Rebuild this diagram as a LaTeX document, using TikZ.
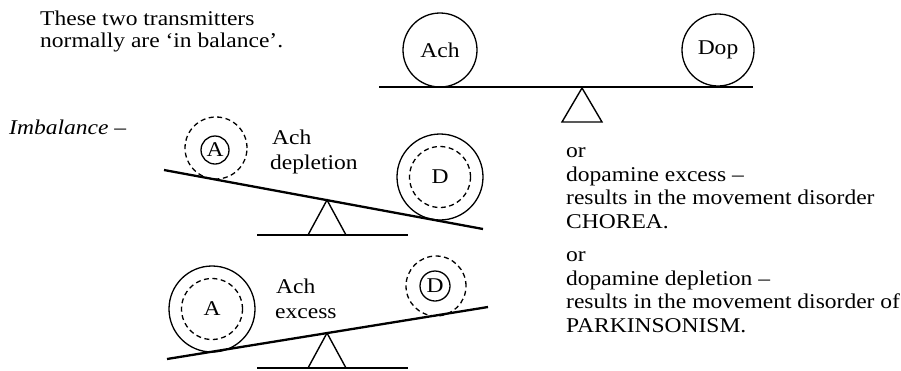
\documentclass[tikz,border=0pt]{standalone}
\usepackage{fontspec}
\setmainfont{Liberation Serif}[FakeStretch=1.12]
\begin{document}
\begin{tikzpicture}[x=1pt,y=-1pt,
  beam/.style={line width=2.3pt},
  fulcrum/.style={line width=1.4pt, line join=miter},
  ground/.style={line width=1.4pt},
  ball/.style={draw, circle, inner sep=0pt, line width=1.3pt, font=\fontsize{21}{23}\selectfont},
  dashball/.style={ball, dash pattern=on 5pt off 3.5pt},
  lbl/.style={font=\fontsize{21}{23}\selectfont, anchor=base west, inner sep=0pt}]
\useasboundingbox (0,0) rectangle (901,370);

% texts
\node[lbl] (t1) at (40,25) {These two transmitters};
\node[lbl] (t2) at (40,47) {normally are ‘in balance’.};
\node[lbl, font=\fontsize{21}{23}\selectfont\itshape] (imb) at (9,134) {Imbalance –};

% top seesaw
\coordinate (tb1) at (379,87);
\coordinate (tb2) at (753,87);
\draw[beam] (tb1) -- (tb2);
\coordinate (ta) at (582,88);
\coordinate (tl) at (562,122);
\coordinate (tr) at (602,122);
\draw[fulcrum] (tl) -- (ta) -- (tr) -- cycle;
\node[ball, minimum size=74pt] (ach) at (440,50) {Ach};
\node[ball, minimum size=72pt] (dop) at (718,50) {Dop};

% middle seesaw (Ach depletion)
\coordinate (mb1) at (164,170);
\coordinate (mb2) at (483,229);
\draw[beam] (mb1) -- (mb2);
\coordinate (ma) at (327,200);
\coordinate (ml) at (308,235);
\coordinate (mr) at (346,235);
\draw[fulcrum] (ml) -- (ma) -- (mr);
\coordinate (mg1) at (257,235);
\coordinate (mg2) at (408,235);
\draw[ground] (mg1) -- (mg2);
\node[dashball, minimum size=62pt] (mAo) at (216,148) {};
\node[ball, minimum size=28pt] (mA) at (215,150) {A};
\node[ball, minimum size=86pt] (mDo) at (440,177) {};
\node[dashball, minimum size=61pt] (mD) at (440,177) {D};
\node[lbl] (m1) at (272,144) {Ach};
\node[lbl] (m2) at (270,169) {depletion};

% bottom seesaw (Ach excess)
\coordinate (bb1) at (167,359);
\coordinate (bb2) at (488,307);
\draw[beam] (bb1) -- (bb2);
\coordinate (ba) at (327,333);
\coordinate (bl) at (308,368);
\coordinate (br) at (346,368);
\draw[fulcrum] (bl) -- (ba) -- (br);
\coordinate (bg1) at (257,368);
\coordinate (bg2) at (408,368);
\draw[ground] (bg1) -- (bg2);
\node[ball, minimum size=86pt] (bAo) at (212,309) {};
\node[dashball, minimum size=61pt] (bA) at (212,309) {A};
\node[dashball, minimum size=60pt] (bDo) at (436,286) {};
\node[ball, minimum size=30pt] (bD) at (435,286) {D};
\node[lbl] (b1) at (276,293) {Ach};
\node[lbl] (b2) at (275,318) {excess};

% right texts
\node[lbl] (r1) at (566,157) {or};
\node[lbl] (r2) at (566,181) {dopamine excess –};
\node[lbl] (r3) at (566,204) {results in the movement disorder};
\node[lbl] (r4) at (566,228) {CHOREA.};
\node[lbl] (r5) at (566,261) {or};
\node[lbl] (r6) at (566,285) {dopamine depletion –};
\node[lbl] (r7) at (566,308) {results in the movement disorder of};
\node[lbl] (r8) at (566,332) {PARKINSONISM.};
\end{tikzpicture}
\end{document}
